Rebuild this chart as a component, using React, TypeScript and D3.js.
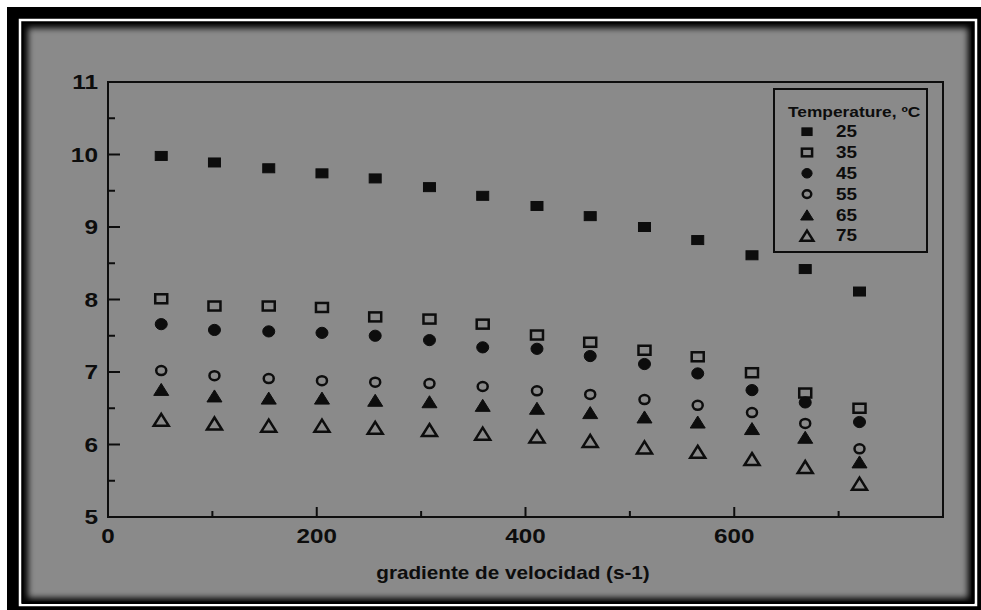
import React from 'react';
import * as d3 from 'd3';

// shear rate (s-1) and viscosity readings for each temperature
const shearRate = [51, 102, 154, 205, 256, 308, 359, 411, 462, 514, 565, 617, 668, 720];
const temperatures = ['25', '35', '45', '55', '65', '75'];
const visc25 = [9.98, 9.89, 9.81, 9.74, 9.67, 9.55, 9.43, 9.29, 9.15, 9.0, 8.82, 8.61, 8.42, 8.11];
const visc35 = [8.01, 7.91, 7.91, 7.89, 7.76, 7.73, 7.66, 7.51, 7.41, 7.3, 7.21, 6.99, 6.71, 6.5];
const visc45 = [7.66, 7.58, 7.56, 7.54, 7.5, 7.44, 7.34, 7.32, 7.22, 7.11, 6.98, 6.75, 6.58, 6.31];
const visc55 = [7.02, 6.95, 6.91, 6.88, 6.86, 6.84, 6.8, 6.74, 6.69, 6.62, 6.54, 6.44, 6.29, 5.94];
const visc65 = [6.76, 6.67, 6.64, 6.64, 6.61, 6.59, 6.54, 6.5, 6.44, 6.38, 6.31, 6.22, 6.1, 5.76];
const visc75 = [6.34, 6.29, 6.26, 6.26, 6.23, 6.2, 6.15, 6.11, 6.05, 5.96, 5.9, 5.8, 5.69, 5.46];
const markerShapes = ['square', 'square', 'circle', 'circle', 'triangle', 'triangle'];
const markerFilled = [true, false, true, false, true, false];

const yTicks = [5, 6, 7, 8, 9, 10, 11];
const yMinor = [5.5, 6.5, 7.5, 8.5, 9.5, 10.5];
const xTicks = [0, 200, 400, 600];
const xMinor = [100, 300, 500, 700];

const W = 981;
const H = 610;
const plot = { left: 108, right: 943, top: 82, bottom: 517 };
const font = '"Liberation Sans", Arial, sans-serif';
const ink = '#0d0d0d';

// the scanned figure is a bit wider than tall, so text gets a horizontal stretch
function Label({ x, y, size, sx = 1.2, anchor = 'start', dy = '0', children }) {
  return (
    <text transform={`translate(${x},${y}) scale(${sx},1)`} textAnchor={anchor} dy={dy}
      fontSize={size} fontWeight="bold" fill={ink}>
      {children}
    </text>
  );
}

function Marker({ shape, filled, cx, cy, k = 1 }) {
  const fill = filled ? ink : 'none';
  const sw = filled ? 1 : 2.5;
  if (shape === 'square') {
    const w = 12 * k;
    const h = 9 * k;
    return <rect x={cx - w / 2} y={cy - h / 2} width={w} height={h} fill={fill} stroke={ink} strokeWidth={sw} />;
  }
  if (shape === 'circle') {
    return <ellipse cx={cx} cy={cy} rx={(filled ? 6 : 5) * k} ry={(filled ? 5.6 : 4.5) * k}
      fill={fill} stroke={ink} strokeWidth={sw} />;
  }
  const w = 15 * k;
  const h = 12 * k;
  const p = d3.path();
  p.moveTo(cx, cy - h / 2);
  p.lineTo(cx + w / 2, cy + h / 2);
  p.lineTo(cx - w / 2, cy + h / 2);
  p.closePath();
  return <path d={p.toString()} fill={fill} stroke={ink} strokeWidth={sw} />;
}

export default function App() {
  const x = d3.scaleLinear().domain([0, 800]).range([plot.left, plot.right]);
  const y = d3.scaleLinear().domain([5, 11]).range([plot.bottom, plot.top]);

  const series = [visc25, visc35, visc45, visc55, visc65, visc75].map((values, i) => ({
    label: temperatures[i],
    values,
    shape: markerShapes[i],
    filled: markerFilled[i],
  }));

  const panel = { x: 22, y: 22, w: 952, h: 582 };

  return (
    <svg width={W} height={H} style={{ position: 'absolute', left: 0, top: 0 }} fontFamily={font}>
      <defs>
        <filter id="blur" x="-5%" y="-5%" width="110%" height="110%">
          <feGaussianBlur stdDeviation="3" />
        </filter>
        <clipPath id="panelClip">
          <rect x={panel.x} y={panel.y} width={panel.w} height={panel.h} />
        </clipPath>
      </defs>
      <rect x={0} y={0} width={W} height={H} fill="#fff" />
      {/* outer frame */}
      <rect x={7} y={7} width={W - 7} height={H - 7} fill="#000" />
      <rect x={20} y={20} width={956} height={585} fill="none" stroke="#fff" strokeWidth={2.5} />
      <rect x={panel.x} y={panel.y} width={panel.w} height={panel.h} fill="#8a8a8a" />
      <g clipPath="url(#panelClip)">
        <rect x={panel.x + 1} y={panel.y + 1} width={panel.w - 2} height={panel.h - 2}
          fill="none" stroke="#000" strokeWidth={10} filter="url(#blur)" />
        <rect x={panel.x - 1} y={panel.y - 1} width={panel.w + 1} height={panel.h + 1}
          fill="none" stroke="#000" strokeWidth={5} />
      </g>

      {/* axes box */}
      <rect x={plot.left} y={plot.top} width={plot.right - plot.left} height={plot.bottom - plot.top}
        fill="none" stroke={ink} strokeWidth={2} />

      {yTicks.map((t) => (
        <g key={`y${t}`}>
          {t > 5 && t < 11 && (
            <line x1={plot.left} x2={plot.left + 12} y1={y(t)} y2={y(t)} stroke={ink} strokeWidth={2} />
          )}
          <Label x={plot.left - 10} y={y(t)} dy="0.36em" anchor="end" size={20} sx={1.22}>{t}</Label>
        </g>
      ))}
      {yMinor.map((t) => (
        <line key={`ym${t}`} x1={plot.left} x2={plot.left + 7} y1={y(t)} y2={y(t)} stroke={ink} strokeWidth={2} />
      ))}
      {xTicks.map((t) => (
        <g key={`x${t}`}>
          {t > 0 && (
            <line x1={x(t)} x2={x(t)} y1={plot.bottom} y2={plot.bottom - 10} stroke={ink} strokeWidth={2} />
          )}
          <Label x={x(t)} y={plot.bottom + 26} anchor="middle" size={20.5} sx={1.18}>{t}</Label>
        </g>
      ))}
      {xMinor.map((t) => (
        <line key={`xm${t}`} x1={x(t)} x2={x(t)} y1={plot.bottom} y2={plot.bottom - 6} stroke={ink} strokeWidth={2} />
      ))}

      <Label x={513} y={579} anchor="middle" size={18} sx={1.15}>gradiente de velocidad (s-1)</Label>

      {series.map((s) => (
        <g key={s.label}>
          {s.values.map((v, i) => (
            <Marker key={i} shape={s.shape} filled={s.filled} cx={x(shearRate[i])} cy={y(v)} />
          ))}
        </g>
      ))}

      {/* legend */}
      <rect x={774} y={89} width={153} height={163} fill="none" stroke={ink} strokeWidth={2} />
      <Label x={788} y={117} size={14} sx={1.24}>Temperature, ºC</Label>
      {series.map((s, i) => (
        <g key={`lg${s.label}`}>
          <Marker shape={s.shape} filled={s.filled} cx={807} cy={131.7 + i * 20.8} k={0.85} />
          <Label x={836} y={131.7 + i * 20.8} dy="0.36em" size={16} sx={1.18}>{s.label}</Label>
        </g>
      ))}
    </svg>
  );
}
